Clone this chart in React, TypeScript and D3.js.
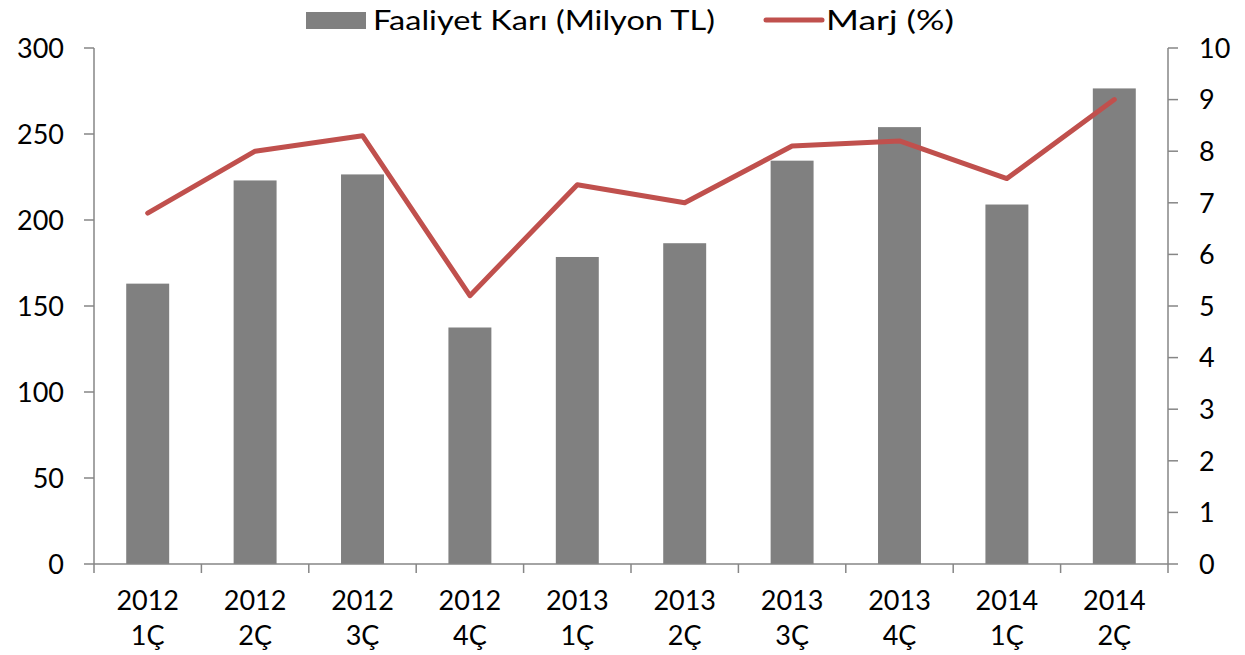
import React from "react";
import * as d3 from "d3";

const categories = ["2012|1Ç", "2012|2Ç", "2012|3Ç", "2012|4Ç", "2013|1Ç", "2013|2Ç", "2013|3Ç", "2013|4Ç", "2014|1Ç", "2014|2Ç"];
const faaliyetKari = [163, 223, 226.5, 137.5, 178.5, 186.5, 234.5, 254, 209, 276.5];
const marj = [6.8, 8.0, 8.3, 5.2, 7.35, 7.0, 8.1, 8.2, 7.47, 9.0];
const leftTicks = [0, 50, 100, 150, 200, 250, 300];
const rightTicks = [0, 1, 2, 3, 4, 5, 6, 7, 8, 9, 10];

const W = 1245, H = 655;
const L = 94, R = 1168, T = 48, B = 564;
const FONT = "Lato, 'Noto Sans', sans-serif";
const AXIS = "#868686";
const BAR = "#808080";
const LINE = "#C0504D";

export default function App() {
  const x = d3.scaleBand<string>().domain(categories).range([L, R]).paddingInner(0.6).paddingOuter(0.3);
  const xb = d3.scaleBand<string>().domain(categories).range([L, R]);
  const yL = d3.scaleLinear().domain([0, 300]).range([B, T]);
  const yR = d3.scaleLinear().domain([0, 10]).range([B, T]);
  const line = d3.line<number>().x((_, i) => (xb(categories[i]) as number) + xb.bandwidth() / 2).y(d => yR(d));
  const fs = 27;
  return (
    <svg width={W} height={H} style={{ position: "absolute", left: 0, top: 0, background: "#fff" }} fontFamily={FONT}>
      {faaliyetKari.map((v, i) => (
        <rect key={i} x={x(categories[i])} y={yL(v)} width={x.bandwidth()} height={yL(0) - yL(v)} fill={BAR} />
      ))}
      {/* left axis */}
      <line x1={L} x2={L} y1={T} y2={B} stroke={AXIS} strokeWidth={1.5} />
      {leftTicks.map(t => (
        <g key={t}>
          <line x1={L - 10} x2={L} y1={yL(t)} y2={yL(t)} stroke={AXIS} strokeWidth={1.5} />
          <text x={L - 30} y={yL(t)} dy="0.36em" textAnchor="end" fontSize={fs} fill="#000">{t}</text>
        </g>
      ))}
      {/* right axis */}
      <line x1={R} x2={R} y1={T} y2={B} stroke={AXIS} strokeWidth={1.5} />
      {rightTicks.map(t => (
        <g key={t}>
          <line x1={R} x2={R + 10} y1={yR(t)} y2={yR(t)} stroke={AXIS} strokeWidth={1.5} />
          <text x={R + 31} y={yR(t)} dy="0.36em" textAnchor="start" fontSize={fs} fill="#000">{t}</text>
        </g>
      ))}
      {/* x axis */}
      <line x1={L} x2={R} y1={B} y2={B} stroke={AXIS} strokeWidth={1.5} />
      {categories.map((c, i) => (
        <line key={"t" + i} x1={xb(c)} x2={xb(c)} y1={B} y2={B + 9} stroke={AXIS} strokeWidth={1.5} />
      ))}
      <line x1={R} x2={R} y1={B} y2={B + 9} stroke={AXIS} strokeWidth={1.5} />
      {categories.map((c, i) => {
        const [a, b] = c.split("|");
        const cx = (xb(c) as number) + xb.bandwidth() / 2;
        return (
          <text key={"l" + i} x={cx} textAnchor="middle" fontSize={fs} fill="#000">
            <tspan x={cx} y={610}>{a}</tspan>
            <tspan x={cx} y={645}>{b}</tspan>
          </text>
        );
      })}
      <path d={line(marj) || ""} fill="none" stroke={LINE} strokeWidth={5} strokeLinejoin="round" strokeLinecap="round" />
      {/* legend */}
      <rect x={306} y={12} width={60} height={17} fill={BAR} />
      <text x={373} y={20} dy="0.36em" fontSize={fs} fill="#000" textLength={342} lengthAdjust="spacingAndGlyphs">Faaliyet Karı (Milyon TL)</text>
      <line x1={766} x2={822} y1={20} y2={20} stroke={LINE} strokeWidth={5} strokeLinecap="round" />
      <text x={826} y={20} dy="0.36em" fontSize={fs} fill="#000" textLength={128} lengthAdjust="spacingAndGlyphs">Marj (%)</text>
    </svg>
  );
}
